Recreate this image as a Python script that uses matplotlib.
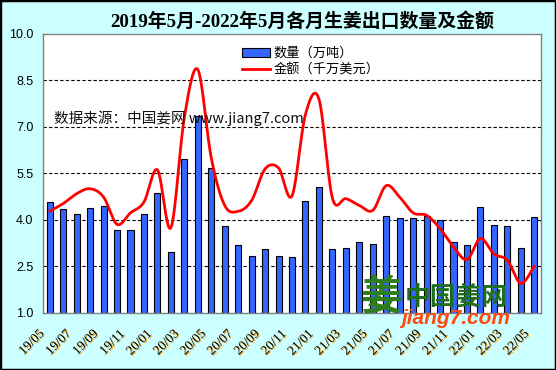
import numpy as np
import matplotlib
matplotlib.use("Agg")
import matplotlib.pyplot as plt
import matplotlib.patheffects as pe
import matplotlib.transforms as mtransforms
from matplotlib.patches import Patch, Rectangle
from matplotlib.lines import Line2D

# 数据（2019/05 - 2022/05，共37个月）
months = ['19/05', '19/06', '19/07', '19/08', '19/09', '19/10', '19/11', '19/12',
          '20/01', '20/02', '20/03', '20/04', '20/05', '20/06', '20/07', '20/08',
          '20/09', '20/10', '20/11', '20/12', '21/01', '21/02', '21/03', '21/04',
          '21/05', '21/06', '21/07', '21/08', '21/09', '21/10', '21/11', '21/12',
          '22/01', '22/02', '22/03', '22/04', '22/05']
qty = [4.58, 4.35, 4.19, 4.39, 4.45, 3.68, 3.68, 4.19, 4.87, 2.97,
       5.96, 7.35, 5.67, 3.81, 3.17, 2.84, 3.04, 2.81, 2.78, 4.61,
       5.06, 3.04, 3.10, 3.27, 3.20, 4.13, 4.07, 4.07, 4.13, 3.98,
       3.29, 3.17, 4.42, 3.84, 3.81, 3.07, 4.10]
amt = [4.27, 4.52, 4.84, 5.00, 4.73, 3.85, 4.22, 4.57, 5.61, 3.74,
       7.30, 8.85, 6.00, 4.46, 4.27, 4.62, 5.64, 5.67, 4.77, 7.40,
       7.90, 4.70, 4.68, 4.46, 4.30, 5.10, 4.73, 4.22, 4.14, 3.71,
       3.12, 2.71, 3.39, 2.89, 2.69, 1.94, 2.50]
yticks = [1.0, 2.5, 4.0, 5.5, 7.0, 8.5, 10.0]


def smooth(xs, ys, n=24):
    # Catmull-Rom 平滑曲线（类似 Excel 平滑线）
    p = np.column_stack([xs, ys]).astype(float)
    p = np.vstack([p[0], p, p[-1]])
    out = []
    t = np.linspace(0, 1, n, endpoint=False)[:, None]
    for i in range(1, len(p) - 2):
        p0, p1, p2, p3 = p[i - 1], p[i], p[i + 1], p[i + 2]
        seg = 0.5 * (2 * p1 + (-p0 + p2) * t + (2 * p0 - 5 * p1 + 4 * p2 - p3) * t ** 2
                     + (-p0 + 3 * p1 - 3 * p2 + p3) * t ** 3)
        out.append(seg)
    out.append(p[-2][None, :])
    out = np.vstack(out)
    return out[:, 0], out[:, 1]


W, H = 556, 370
fig = plt.figure(figsize=(W / 100, H / 100), dpi=100, facecolor='#CCFFFF')
fig.patches.append(Rectangle((0, 0), 1, 1, transform=fig.transFigure, fill=False,
                             edgecolor='black', lw=2.5))

ax = fig.add_axes([43 / W, 1 - 312.5 / H, 498 / W, 278.5 / H])
ax.set_facecolor('white')
for s in ax.spines.values():
    s.set_color('#808080')
    s.set_linewidth(1)

x = np.arange(len(months))
for v in yticks[1:-1]:
    ax.axhline(v, color='black', lw=0.8, ls=(0, (3, 2)), zorder=1)

ax.bar(x, qty, width=0.45, color='#3366FF', edgecolor='black', lw=0.8, zorder=2)
sx, sy = smooth(x, amt)
ax.plot(sx, sy, color='red', lw=2.0, zorder=3, solid_capstyle='round')

ax.set_xlim(-0.5, len(months) - 0.5)
ax.set_ylim(1, 10)
ax.set_yticks(yticks)
ax.set_yticklabels(['%.1f' % v for v in yticks], family='Liberation Sans', fontsize=9)
ax.set_xticks(x[::2])
ax.set_xticklabels(months[::2], rotation=45, ha='right', va='top',
                   family='Liberation Serif', fontsize=9.5)
ax.tick_params(axis='y', length=0, pad=7)
ax.tick_params(axis='x', length=0, pad=11)
shift = mtransforms.ScaledTranslation(-3 / 100, 0, fig.dpi_scale_trans)
for lab in ax.get_xticklabels():
    lab.set_transform(lab.get_transform() + shift)
    lab.set_path_effects([pe.SimplePatchShadow(offset=(0.8, -0.6), shadow_rgbFace='#FF9900', alpha=1),
                          pe.Normal()])

cjk = ['Noto Sans CJK SC', 'DejaVu Sans']
fig.text(302 / W, 1 - 21 / H, '2019年5月-2022年5月各月生姜出口数量及金额',
         ha='center', va='center', fontsize=13.6, fontweight='bold',
         family=['Liberation Serif', 'Noto Sans CJK SC'])

handles = [Patch(facecolor='#3366FF', edgecolor='black', lw=0.8),
           Line2D([], [], color='red', lw=2)]
ax.legend(handles, ['数量（万吨）', '金额（千万美元）'], loc='upper left',
          bbox_to_anchor=((242 - 43) / 498, (312 - 47) / 278), frameon=False,
          borderpad=0, borderaxespad=0, handlelength=2.1, handleheight=0.6,
          handletextpad=0.3, labelspacing=0.28,
          prop={'family': cjk, 'size': 9.5})

fig.text(54 / W, 1 - 118 / H, '数据来源：中国姜网 www.jiang7.com', ha='left', va='center',
         fontsize=10.5, family=cjk, color='#111111', zorder=5)

# 水印标志
fig.text(381 / W, 1 - 298 / H, '姜', ha='center', va='center', fontsize=30,
         fontweight='bold', family=cjk, color='#2E7D1E', zorder=5)
fig.text(405 / W, 1 - 297 / H, '中国姜网', ha='left', va='center', fontsize=18.5,
         fontweight='bold', family=cjk, color='#1F6E1F', zorder=5)
fig.text(401 / W, 1 - 319 / H, 'jiang7.com', ha='left', va='center', fontsize=15,
         fontweight='bold', style='italic', family='Liberation Sans', color='#FF4A10', zorder=5)

fig.savefig('out.png', dpi=100, facecolor=fig.get_facecolor())
